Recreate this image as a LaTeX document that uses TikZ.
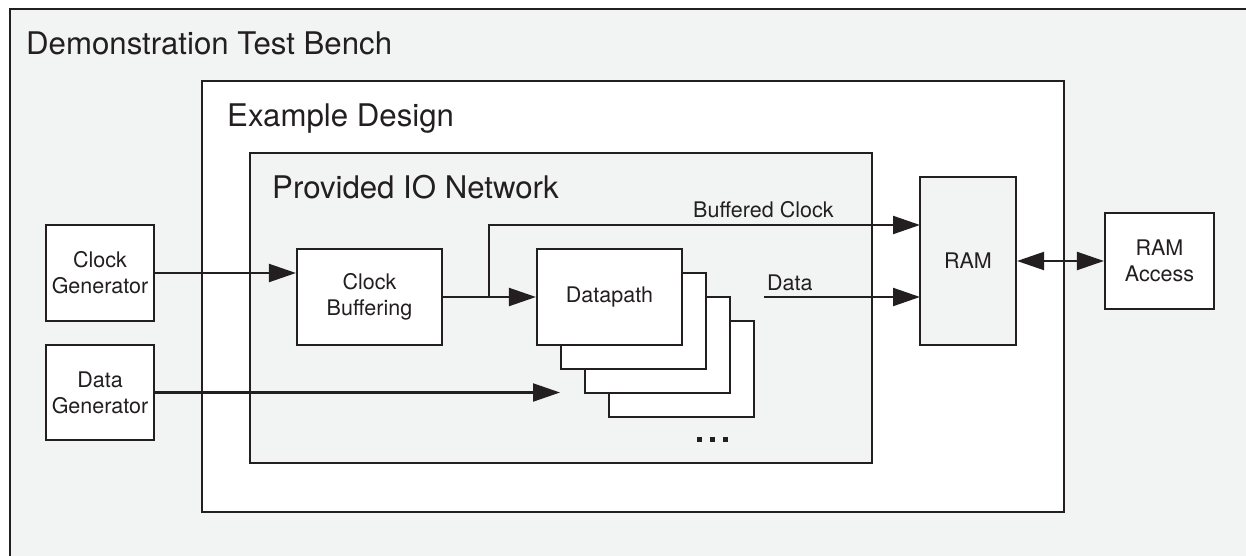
\documentclass[tikz,border=0pt]{standalone}
\usepackage{fontspec}
\setmainfont{TeX Gyre Heros}
\usetikzlibrary{arrows.meta}
\definecolor{bench}{RGB}{242,244,243}
\definecolor{ink}{RGB}{35,31,32}
\tikzset{
  blk/.style={draw=ink, line width=2.1pt, fill=white, align=center, inner sep=0pt,
    font=\fontsize{21.5}{26}\selectfont, text=ink},
  ttl/.style={anchor=base west, inner sep=0pt, font=\fontsize{31.2}{36}\selectfont, text=ink},
  lbl/.style={anchor=base west, inner sep=0pt, font=\fontsize{21.5}{26}\selectfont, text=ink},
  sig/.style={draw=ink, line width=2.1pt, -{Triangle[length=27pt,width=18pt]}}
}
\begin{document}
\begin{tikzpicture}[x=1pt,y=-1pt]
\useasboundingbox (0,0) rectangle (1246,556);
% nested frames
\draw[ink, line width=2.1pt, fill=bench] (10,9) rectangle (1290,600);
\draw[ink, line width=2.1pt, fill=white] (202,81) rectangle (1064,512);
\draw[ink, line width=2.1pt, fill=bench] (250,153) rectangle (872,463);
\node[ttl] (tbtitle) at (26,55) {Demonstration Test Bench};
\node[ttl] (edtitle) at (227,127) {Example Design};
\node[ttl] (iotitle) at (272,198) {Provided IO Network};
% blocks
\node[blk, minimum width=108pt, minimum height=96pt] (clkgen) at (100,273) {Clock\\Generator};
\node[blk, minimum width=108pt, minimum height=95pt] (datagen) at (100,392.5) {Data\\Generator};
\node[blk, minimum width=145pt, minimum height=96pt] (clkbuf) at (369.5,297) {Clock\\Buffering};
\foreach \i in {3,2,1}
  \node[blk, minimum width=145pt, minimum height=96pt] (dp\i) at (609.5+24*\i,297+24*\i) {};
\node[blk, minimum width=145pt, minimum height=96pt] (dp) at (609.5,297) {Datapath};
\node[blk, fill=bench, minimum width=96pt, minimum height=168pt] (ram) at (968,261) {RAM};
\node[blk, minimum width=109pt, minimum height=96pt] (ramacc) at (1159.5,261) {RAM\\Access};
% more datapaths
\foreach \i in {0,1,2}
  \fill[ink] (697+13*\i,437.3) rectangle ++(5,4.5);
% signals
\coordinate (br) at (489,297);
\coordinate (ramck) at (920,225);
\coordinate (dtout) at (764,297);
\coordinate (ramdt) at (920,297);
\coordinate (dpin) at (560,392.5);
\draw[sig] (clkgen.east) -- (clkbuf.west |- clkgen.east);
\draw[sig] (clkbuf.east) -- (dp.west);
\draw[sig] (br) |- (ramck);
\draw[sig] (dtout) -- (ramdt);
\draw[sig] (datagen.east) -- (dpin);
\draw[sig, {Triangle[length=27pt,width=18pt]}-{Triangle[length=27pt,width=18pt]}] (ram.east) -- (ramacc.west);
\node[lbl] (bclbl) at (693,217) {Buffered Clock};
\node[lbl] (dtlbl) at (767,290) {Data};
\end{tikzpicture}
\end{document}
